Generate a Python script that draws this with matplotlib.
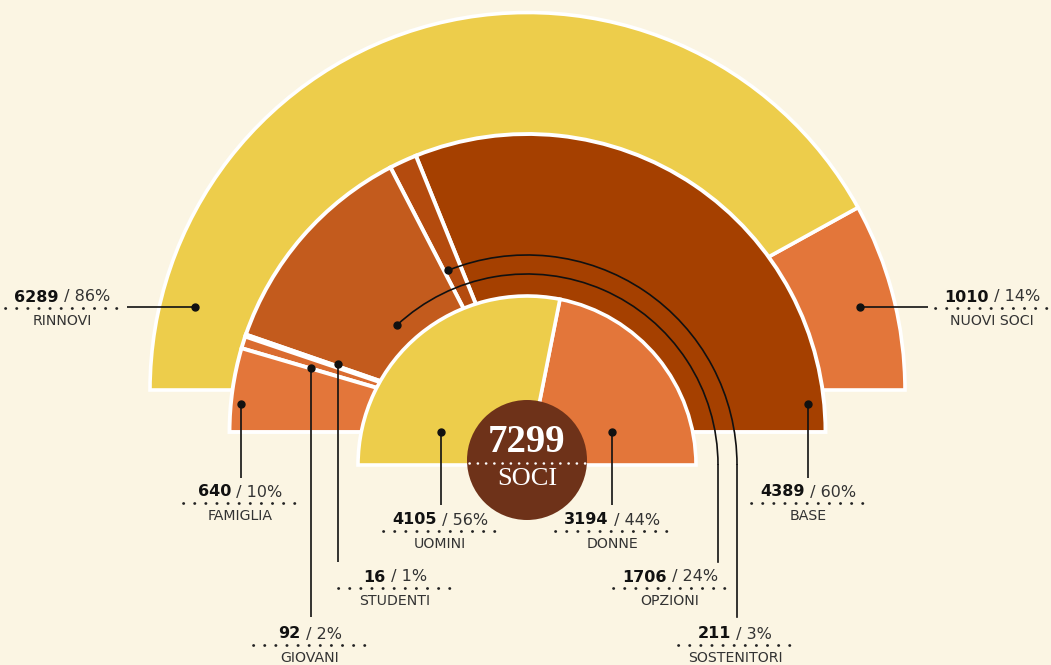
import numpy as np
import matplotlib
matplotlib.use('Agg')
import matplotlib.pyplot as plt
from matplotlib.patches import Wedge, Circle, Arc
from matplotlib.offsetbox import TextArea, HPacker, AnnotationBbox

H = 665  # picture height, used to turn picture y into axis y
BG = '#fbf5e3'

total_soci = 7299

outer_names = ['NUOVI SOCI', 'RINNOVI']
outer_values = [1010, 6289]
outer_pcts = [14, 86]
outer_colors = ['#e3763a', '#edcd4b']

middle_names = ['BASE', 'SOSTENITORI', 'OPZIONI', 'STUDENTI', 'GIOVANI', 'FAMIGLIA']
middle_values = [4389, 211, 1706, 16, 92, 640]
middle_pcts = [60, 3, 24, 1, 2, 10]
middle_colors = ['#a54000', '#b44b0e', '#c35b1d', '#d4682c', '#da6c30', '#e3763a']

inner_names = ['DONNE', 'UOMINI']
inner_values = [3194, 4105]
inner_pcts = [44, 56]
inner_colors = ['#e3763a', '#edcd4b']


def half_ring(ax, values, center, radius, colors, base=None, lw=2.6):
    base = base or sum(values)
    theta = np.concatenate([[0], np.cumsum(values)]) / base * 180
    theta[-1] = 180  # last slice closes the half circle
    for t1, t2, c in zip(theta[:-1], theta[1:], colors):
        ax.add_patch(Wedge(center, radius, t1, t2, facecolor=c,
                           edgecolor='white', linewidth=lw))


def label(ax, x, y, value, pct, name):
    # y is picture y of the number line
    num = TextArea(str(value), textprops=dict(fontweight='bold', fontsize=11.5,
                                              color='#111111', family='DejaVu Sans'))
    rest = TextArea(f' / {pct}%', textprops=dict(fontsize=11.5, color='#333333',
                                                 family='DejaVu Sans'))
    box = HPacker(children=[num, rest], align='baseline', pad=0, sep=0)
    ax.add_artist(AnnotationBbox(box, (x, H - y), frameon=False,
                                 box_alignment=(0.5, 0.5), pad=0))
    ax.plot([x - 57, x + 57], [H - y - 11, H - y - 11], color='#222222', lw=2.0,
            linestyle=(0, (0.1, 3.9)), dash_capstyle='round')
    ax.text(x, H - y - 24, name, ha='center', va='center', fontsize=10.2,
            color='#333333', family='DejaVu Sans')


def leader(ax, pts):
    xs = [p[0] for p in pts]
    ys = [H - p[1] for p in pts]
    ax.plot(xs, ys, color='#111111', lw=1.2, solid_capstyle='butt')
    ax.plot(xs[0], ys[0], 'o', color='#111111', markersize=5)


fig = plt.figure(figsize=(10.51, 6.65), dpi=100, facecolor=BG)
ax = fig.add_axes([0, 0, 1, 1])
ax.set_xlim(0, 1051)
ax.set_ylim(0, H)
ax.axis('off')

# the original splits the outer ring at nuovi / rinnovi of the half circle
half_ring(ax, outer_values, (527.5, H - 390), 377.5, outer_colors, base=outer_values[1])
half_ring(ax, middle_values, (527.5, H - 432), 298, middle_colors, lw=2.8)
half_ring(ax, inner_values, (527, H - 465), 169, inner_colors)

# leaders
leader(ax, [(195, 307), (127, 307)])
leader(ax, [(860, 307), (928, 307)])
leader(ax, [(241, 404), (241, 478)])
leader(ax, [(311, 368), (311, 617)])
leader(ax, [(338, 364), (338, 562)])
leader(ax, [(441, 432), (441, 505)])
leader(ax, [(612, 432), (612, 505)])
leader(ax, [(808, 404), (808, 478)])

arc_c = (527, H - 465)
for r, ang, bottom in [(191, 133, 562), (210, 112, 617)]:
    ax.add_patch(Arc(arc_c, 2 * r, 2 * r, theta1=0, theta2=ang, color='#111111', lw=1.2))
    ax.plot([arc_c[0] + r, arc_c[0] + r], [arc_c[1], H - bottom], color='#111111', lw=1.2)
    a = np.radians(ang)
    ax.plot(arc_c[0] + r * np.cos(a), arc_c[1] + r * np.sin(a), 'o',
            color='#111111', markersize=5)

# labels
label_pos = {
    'RINNOVI': (62, 297), 'NUOVI SOCI': (992, 297),
    'FAMIGLIA': (240, 492), 'BASE': (808, 492),
    'UOMINI': (440, 520), 'DONNE': (612, 520),
    'STUDENTI': (395, 577), 'OPZIONI': (670, 577),
    'GIOVANI': (310, 634), 'SOSTENITORI': (735, 634),
}
for names, values, pcts in [(outer_names, outer_values, outer_pcts),
                            (middle_names, middle_values, middle_pcts),
                            (inner_names, inner_values, inner_pcts)]:
    for n, v, p in zip(names, values, pcts):
        x, y = label_pos[n]
        label(ax, x, y, v, p, n)

# centre badge
ax.add_patch(Circle((527, H - 460), 60, facecolor='#6e3219', edgecolor='none'))
ax.text(527, H - 443, str(total_soci), ha='center', va='center', color='white',
        fontsize=28, fontweight='bold', family='Liberation Serif')
ax.text(527, H - 479, 'SOCI', ha='center', va='center', color='white',
        fontsize=19, family='Liberation Serif')
ax.plot([469, 586], [H - 463, H - 463], color='white', lw=1.8,
        linestyle=(0, (0.1, 3.2)), dash_capstyle='round')

fig.savefig('out.png', dpi=100, facecolor=BG)
